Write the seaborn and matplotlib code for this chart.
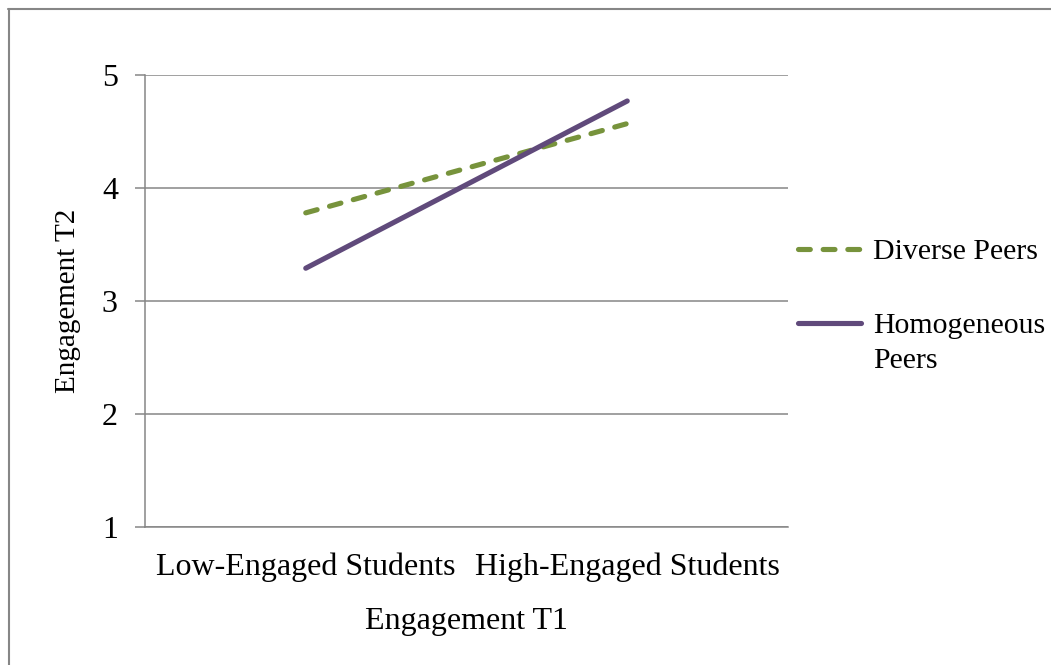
import matplotlib
matplotlib.use("Agg")
import matplotlib.pyplot as plt
from matplotlib.lines import Line2D
import seaborn as sns
import pandas as pd

# Interaction plot data
categories = ["Low-Engaged Students", "High-Engaged Students"]
diverse_peers = [3.78, 4.57]
homogeneous_peers = [3.29, 4.77]
series_labels = ["Diverse Peers", "Homogeneous\nPeers"]
y_ticks = [1, 2, 3, 4, 5]

sns.set_theme(style="white")
plt.rcParams["font.family"] = ["Liberation Serif", "DejaVu Serif"]

GREEN = "#77933C"
PURPLE = "#604A7B"
GRID = "#868686"
FS = 23
LW = 3.7
DASH = (0, (2.3, 2.5))

W, H = 1051, 665
fig = plt.figure(figsize=(W / 100, H / 100), dpi=100)
ax = fig.add_axes([145 / W, 1 - 527 / H, (788 - 145) / W, (527 - 75) / H])

df = pd.DataFrame({
    "pos": [0, 1, 0, 1],
    "value": diverse_peers + homogeneous_peers,
    "group": [series_labels[0]] * 2 + [series_labels[1]] * 2,
})

sns.lineplot(data=df[df.group == series_labels[0]], x="pos", y="value", ax=ax,
             color=GREEN, lw=LW, linestyle=DASH,
             dash_capstyle="round", solid_capstyle="round", legend=False)
sns.lineplot(data=df[df.group == series_labels[1]], x="pos", y="value", ax=ax,
             color=PURPLE, lw=LW, solid_capstyle="round", legend=False)

ax.set_xlim(-0.5, 1.5)
ax.set_ylim(1, 5)
ax.set_yticks(y_ticks)
ax.set_xticks([0, 1])
ax.set_xticklabels(categories)
ax.yaxis.grid(True, color=GRID, lw=1.1)
ax.set_axisbelow(True)
for s in ["top", "right"]:
    ax.spines[s].set_visible(False)
for s in ["left", "bottom"]:
    ax.spines[s].set_color(GRID)
    ax.spines[s].set_linewidth(1.1)
ax.tick_params(axis="y", left=True, length=7.5, width=1.1, color=GRID,
               labelsize=FS, pad=12, labelcolor="black")
ax.tick_params(axis="x", bottom=False, labelsize=FS, pad=12, labelcolor="black")
ax.set_xlabel("Engagement T1", fontsize=FS, labelpad=18, color="black")
ax.set_ylabel("Engagement T2", fontsize=21, labelpad=15, color="black")

# legend on the right: key line + label, key aligned with the label's first line
legend_styles = [
    dict(color=GREEN, lw=LW, linestyle=DASH, dash_capstyle="round"),
    dict(color=PURPLE, lw=LW, solid_capstyle="round"),
]
legend_rows = [249, 323]
for label, style, yrow in zip(series_labels, legend_styles, legend_rows):
    yf = 1 - yrow / H
    fig.add_artist(Line2D([798 / W, 861 / W], [yf, yf], transform=fig.transFigure, **style))
    fig.text(873 / W, 1 - (yrow - 10) / H, label, fontsize=21.5, color="black",
             ha="left", va="top", linespacing=1.44)

# outer chart frame
fig.add_artist(Line2D([8 / W, 1], [1 - 8.5 / H, 1 - 8.5 / H], color=GRID, lw=1.5,
                      transform=fig.transFigure))
fig.add_artist(Line2D([8.5 / W, 8.5 / W], [0, 1 - 8.5 / H], color=GRID, lw=1.5,
                      transform=fig.transFigure))

fig.savefig("out.png", dpi=100, facecolor="white")
